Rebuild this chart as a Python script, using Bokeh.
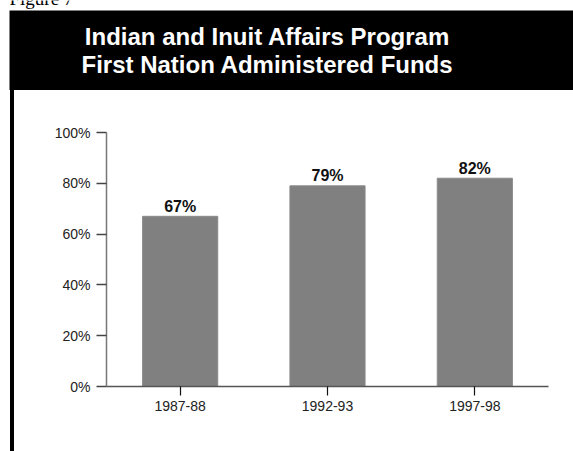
from bokeh.plotting import figure
from bokeh.layouts import column, row
from bokeh.models import (FactorRange, Range1d, FixedTicker, PrintfTickFormatter,
                          BoxAnnotation, Label, ColumnDataSource)
from bokeh.core.properties import value
from bokeh.embed import file_html
from bokeh.resources import INLINE

# ---- data ----
figure_label = "Figure 7"
title_lines = ["Indian and Inuit Affairs Program", "First Nation Administered Funds"]
categories = ["1987-88", "1992-93", "1997-98"]
percent_values = [67, 79, 82]
value_labels = ["67%", "79%", "82%"]
y_ticks = [0, 20, 40, 60, 80, 100]

TOTAL_W, TOTAL_H = 573, 451
HEADER_H = 90
BORDER_GAP = 10
BORDER_W = 4
FONT = "Liberation Sans"


def bare_fig(w, h, **kw):
    f = figure(width=w, height=h, output_backend="svg", toolbar_location=None,
               x_axis_location=None, y_axis_location=None,
               x_range=Range1d(0, 1), y_range=Range1d(0, 1),
               min_border=0, title=None, **kw)
    f.min_border_left = f.min_border_right = 0
    f.min_border_top = f.min_border_bottom = 0
    f.outline_line_color = None
    f.xgrid.visible = False
    f.ygrid.visible = False
    return f


# ---- header figure ----
hdr = bare_fig(TOTAL_W, HEADER_H)
hdr.background_fill_color = "white"
hdr.border_fill_color = "white"
hdr.add_layout(BoxAnnotation(left=9, right=TOTAL_W, top=10, bottom=HEADER_H,
                             left_units="canvas", right_units="canvas",
                             top_units="canvas", bottom_units="canvas",
                             fill_color="black", fill_alpha=1.0, line_color=None))
hdr.add_layout(Label(x=9, y=-2, x_units="canvas", y_units="canvas",
                     text=figure_label, text_align="left", text_baseline="middle",
                     text_font="Liberation Serif", text_font_size="19px",
                     text_color="black"))
for i, line in enumerate(title_lines):
    hdr.add_layout(Label(x=267, y=35.5 + 28 * i, x_units="canvas", y_units="canvas",
                         text=line, text_align="center", text_baseline="middle",
                         text_font=FONT, text_font_style="bold", text_font_size="24px",
                         text_color="white"))

# ---- left border (a thin black figure) ----
MH = TOTAL_H - HEADER_H
bdr = bare_fig(BORDER_W, MH, margin=(0, 0, 0, BORDER_GAP))
bdr.background_fill_color = "black"
bdr.border_fill_color = "black"
bdr.styles = {"background-color": "black"}

# ---- main chart ----
MW = TOTAL_W - BORDER_GAP - BORDER_W
p = figure(width=MW, height=MH, output_backend="svg", toolbar_location=None,
           x_range=FactorRange(*categories), y_range=Range1d(0, 100),
           min_border_left=92, min_border_right=25, min_border_top=42,
           min_border_bottom=65, title=None)
p.outline_line_color = None
p.xgrid.grid_line_color = None
p.ygrid.grid_line_color = None
p.background_fill_color = "white"
p.border_fill_color = "white"

src = ColumnDataSource(dict(cat=categories, val=percent_values, lab=value_labels))
p.vbar(x="cat", top="val", width=0.51, source=src, fill_color="#808080",
       line_color="#8a8a8a", line_width=1)
p.text(x="cat", y="val", text="lab", source=src, text_align="center",
       text_baseline="middle", y_offset=-10, text_font=value(FONT),
       text_font_style="bold", text_font_size="16px", text_color="#111111")

ya = p.yaxis[0]
ya.ticker = FixedTicker(ticks=y_ticks)
ya.formatter = PrintfTickFormatter(format="%d%%")
ya.major_label_text_font = FONT
ya.major_label_text_font_size = "14px"
ya.major_label_text_color = "#222222"
ya.major_tick_out = 10
ya.major_tick_in = 0
ya.minor_tick_out = 0
ya.minor_tick_in = 0
ya.axis_line_color = "#777777"
ya.axis_line_width = 1.5
ya.major_tick_line_color = "#444444"
ya.major_tick_line_width = 1.5
ya.major_label_standoff = 6

xa = p.xaxis[0]
xa.major_label_text_font = FONT
xa.major_label_text_font_size = "14px"
xa.major_label_text_color = "#222222"
xa.major_tick_out = 9
xa.major_tick_in = 0
xa.axis_line_color = "#555555"
xa.axis_line_width = 1.5
xa.major_tick_line_color = "#111111"
xa.major_tick_line_width = 1.2
xa.major_label_standoff = 5

layout = column(hdr, row(bdr, p, spacing=0), spacing=0)

open("out.html", "w").write(file_html(layout, INLINE))
